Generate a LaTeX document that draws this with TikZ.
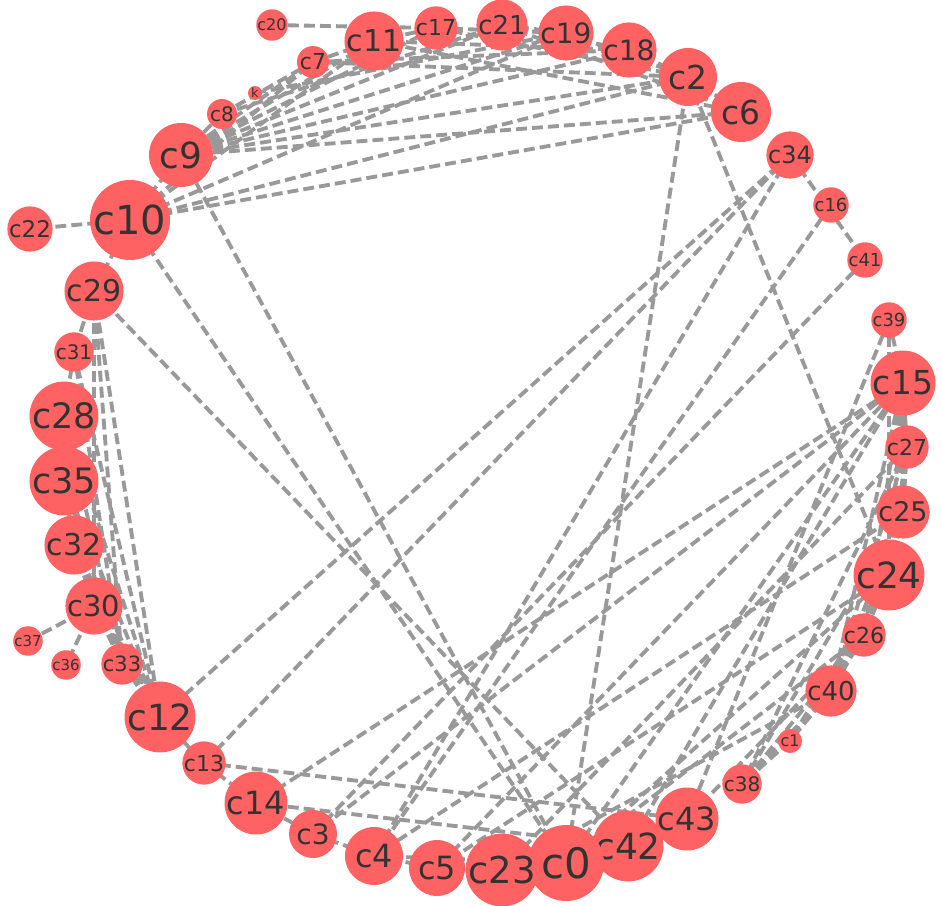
\documentclass[tikz,border=0pt]{standalone}
\usepackage{fontspec}
\setmainfont{DejaVu Sans}
\pgfdeclarelayer{bg}
\pgfsetlayers{bg,main}
\definecolor{nodefill}{HTML}{FF6262}
\definecolor{edgec}{HTML}{999999}
\definecolor{txt}{HTML}{333333}
\tikzset{
  vtx/.style={circle,fill=nodefill,draw=none,inner sep=0pt,text=txt},
  edg/.style={draw=edgec,line width=2.9pt,dash pattern=on 8.2pt off 3.8pt}
}
\newcommand{\nd}[5]{\node[vtx,minimum size=#4*1.5pt,font=\fontsize{\the\dimexpr #5pt*3/4\relax}{\the\dimexpr #5pt\relax}\selectfont] (#1) at (#2,#3) {#1};}
\newcommand{\ed}[2]{\draw[edg] (#1.center) -- (#2.center);}
\begin{document}
\begin{tikzpicture}[x=0.75pt,y=-0.75pt]
\useasboundingbox (0,0) rectangle (942,906);
\nd{c20}{272}{25}{11}{16}
\nd{c11}{374}{41}{25}{30}
\nd{c17}{436}{28}{16}{22}
\nd{c21}{502}{25}{21}{26}
\nd{c19}{566}{33}{24}{28}
\nd{c18}{629}{50}{23}{28}
\nd{c2}{688}{77}{29}{33}
\nd{c6}{741}{112}{30}{33}
\nd{c34}{790}{155}{22}{24}
\nd{c16}{831}{205}{15}{18}
\nd{c41}{865}{260}{15}{18}
\nd{c39}{889}{320}{15}{18}
\nd{c15}{903}{383}{30}{33}
\nd{c27}{907}{447}{16}{22}
\nd{c25}{903}{512}{23}{27}
\nd{c24}{889}{575}{33}{36}
\nd{c26}{864}{635}{18}{22}
\nd{c40}{831}{691}{23}{26}
\nd{c1}{790}{741}{12}{16}
\nd{c38}{742}{784}{16}{20}
\nd{c43}{687}{819}{29}{32}
\nd{c42}{628}{846}{33}{36}
\nd{c0}{566}{863}{38}{42}
\nd{c23}{502}{870}{33}{37}
\nd{c5}{437}{868}{28}{32}
\nd{c4}{374}{856}{29}{32}
\nd{c3}{313}{834}{24}{28}
\nd{c14}{256}{803}{29}{32}
\nd{c13}{204}{763}{20}{22}
\nd{c12}{160}{717}{32}{36}
\nd{c33}{122}{664}{17}{21}
\nd{c36}{66}{665}{12}{15}
\nd{c37}{28}{641}{11}{15}
\nd{c30}{94}{606}{25}{29}
\nd{c32}{74}{545}{26}{30}
\nd{c35}{64}{481}{32}{35}
\nd{c28}{64}{416}{33}{35}
\nd{c31}{74}{352}{18}{20}
\nd{c29}{94}{291}{29}{30}
\nd{c10}{130}{220}{40}{40}
\nd{c22}{30}{229}{20}{23}
\nd{c9}{181}{155}{32}{36}
\nd{c8}{222}{114}{15}{20}
\nd{k}{255}{93}{7}{13}
\nd{c7}{313}{62}{16}{22}
\begin{pgfonlayer}{bg}
% top cluster
\ed{c20}{c17}\ed{c8}{c7}\ed{c7}{c11}\ed{c7}{c2}\ed{c7}{c18}
\ed{c11}{c17}\ed{c11}{c18}\ed{c11}{c6}\ed{c17}{c19}\ed{c17}{c2}
\ed{c21}{c19}\ed{c21}{c18}\ed{c21}{c6}\ed{c19}{c2}\ed{c18}{c2}\ed{c2}{c6}
\ed{k}{c19}\ed{c8}{c21}
\ed{c9}{c17}\ed{c9}{c21}\ed{c9}{c19}\ed{c9}{c18}\ed{c9}{c2}\ed{c9}{c6}
\ed{c9}{c11}\ed{c9}{c7}\ed{c9}{c8}
\ed{c10}{c9}\ed{c10}{c7}\ed{c10}{c11}\ed{c10}{c19}\ed{c10}{c2}\ed{c10}{c6}
\ed{c10}{c22}\ed{c10}{c29}\ed{c10}{c0}\ed{c9}{c0}\ed{c29}{c42}
% right
\ed{c2}{c0}\ed{c2}{c24}\ed{c34}{c12}\ed{c34}{c13}\ed{c34}{c4}\ed{c34}{c41}
\ed{c16}{c4}\ed{c41}{c3}
\ed{c39}{c15}\ed{c39}{c24}
\ed{c15}{c27}\ed{c15}{c25}\ed{c15}{c24}\ed{c15}{c26}\ed{c15}{c40}
\ed{c15}{c14}\ed{c15}{c3}\ed{c15}{c5}\ed{c15}{c0}\ed{c15}{c42}
\ed{c27}{c25}\ed{c27}{c24}\ed{c27}{c40}\ed{c27}{c38}\ed{c27}{c23}
\ed{c25}{c24}\ed{c25}{c40}\ed{c25}{c38}\ed{c25}{c4}
\ed{c24}{c26}\ed{c24}{c40}\ed{c24}{c1}\ed{c24}{c0}\ed{c24}{c5}
\ed{c26}{c40}\ed{c26}{c38}\ed{c26}{c43}\ed{c26}{c0}
\ed{c40}{c1}\ed{c40}{c38}\ed{c40}{c23}\ed{c1}{c38}\ed{c39}{c43}
% bottom
\ed{c12}{c13}\ed{c13}{c14}\ed{c14}{c3}\ed{c3}{c4}\ed{c4}{c5}\ed{c5}{c23}
\ed{c23}{c0}\ed{c0}{c42}\ed{c42}{c43}\ed{c13}{c43}\ed{c14}{c42}\ed{c4}{c0}
% left
\ed{c29}{c31}\ed{c29}{c12}\ed{c29}{c33}\ed{c29}{c30}
\ed{c31}{c28}\ed{c31}{c12}\ed{c31}{c33}
\ed{c28}{c35}\ed{c28}{c12}\ed{c28}{c33}
\ed{c35}{c32}\ed{c35}{c12}\ed{c35}{c33}
\ed{c32}{c30}\ed{c32}{c12}\ed{c32}{c33}
\ed{c30}{c33}\ed{c30}{c12}\ed{c30}{c37}\ed{c30}{c36}\ed{c33}{c12}
\end{pgfonlayer}
\end{tikzpicture}
\end{document}
